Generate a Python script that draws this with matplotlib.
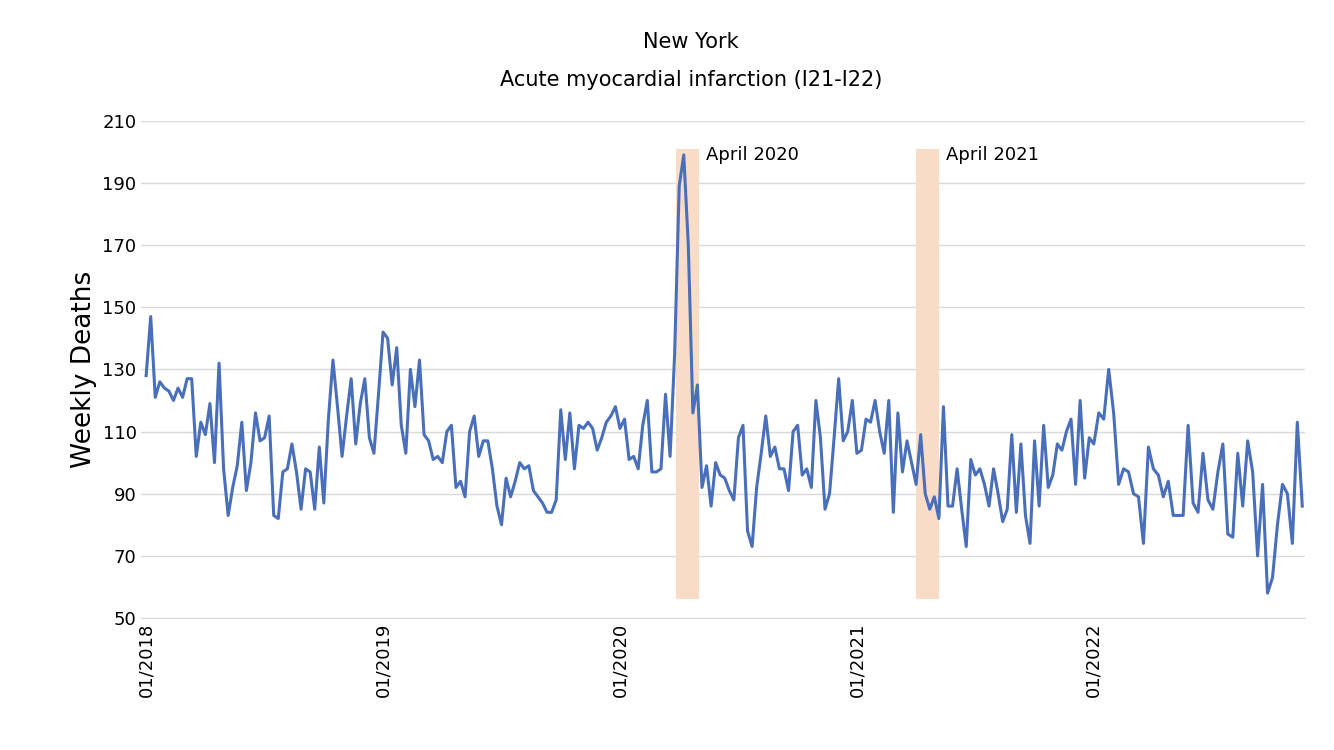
import matplotlib
matplotlib.use("Agg")
import matplotlib.pyplot as plt
import numpy as np

y2018 = [128,147,121,126,124,123,120,124,121,127,127,102,113,109,119,100,132,98,83,92,99,113,91,100,116,107,108,115,83,82,97,98,106,97,85,98,97,85,105,87,114,133,118,102,115,127,106,119,127,108,103,122]
y2019 = [142,140,125,137,112,103,130,118,133,109,107,101,102,100,110,112,92,94,89,110,115,102,107,107,98,86,80,95,89,94,100,98,99,91,89,87,84,84,88,117,101,116,98,112,111,113,111,104,108,113,115,118]
y2020 = [111,114,101,102,98,112,120,97,97,98,122,102,135,189,199,170,116,125,92,99,86,100,96,95,91,88,108,112,78,73,92,103,115,102,105,98,98,91,110,112,96,98,92,120,108,85,90,108,127,107,110,120]
y2021 = [103,104,114,113,120,110,103,120,84,116,97,107,100,93,109,90,85,89,82,118,86,86,98,85,73,101,96,98,93,86,98,90,81,85,109,84,106,83,74,107,86,112,92,96,106,104,110,114,93,120,95,108]
y2022 = [106,116,114,130,116,93,98,97,90,89,74,105,98,96,89,94,83,83,83,112,87,84,103,88,85,97,106,77,76,103,86,107,97,70,93,58,63,80,93,90,74,113,86]
tick_labels = ["01/2018", "01/2019", "01/2020", "01/2021", "01/2022"]
spans = [("April 2020", 2020.236, 2020.333), ("April 2021", 2021.249, 2021.346)]

xs, ys = [], []
for yr, vals, frac in [(2018, y2018, 1.0), (2019, y2019, 1.0), (2020, y2020, 1.0), (2021, y2021, 1.0), (2022, y2022, 0.88)]:
    n = len(vals)
    step = frac / (n if frac == 1.0 else n - 1)
    xs += [yr + i * step for i in range(n)]
    ys += vals

fig = plt.figure(figsize=(13.34, 7.5), dpi=100)
ax = fig.add_axes([0.106, 0.176, 0.872, 0.663])
for label, a, b in spans:
    ax.fill_between([a, b], 56, 201, color="#f8dcc8", zorder=1, lw=0)
    ax.text(b + 0.03, 199, label, fontsize=13, va="center", ha="left")
ax.plot(xs, ys, color="#4a6fba", lw=2.2, zorder=3)
ax.set_ylim(50, 210)
ax.set_xlim(2018 - 0.02, 2022.89)
ax.set_yticks(range(50, 211, 20))
ax.set_xticks([2018, 2019, 2020, 2021, 2022])
ax.set_xticklabels(tick_labels, rotation=90, fontsize=13)
ax.tick_params(axis="y", labelsize=13, length=0)
ax.tick_params(axis="x", length=0)
ax.grid(axis="y", color="#d9d9d9", lw=1)
ax.set_axisbelow(True)
for s in ["top", "right", "left"]:
    ax.spines[s].set_visible(False)
ax.spines["bottom"].set_color("#d9d9d9")
ax.set_ylabel("Weekly Deaths", fontsize=19)
fig.text(0.518, 0.944, "New York", ha="center", va="center", fontsize=15)
fig.text(0.518, 0.893, "Acute myocardial infarction (I21-I22)", ha="center", va="center", fontsize=15)
fig.savefig("out.png", dpi=100)
